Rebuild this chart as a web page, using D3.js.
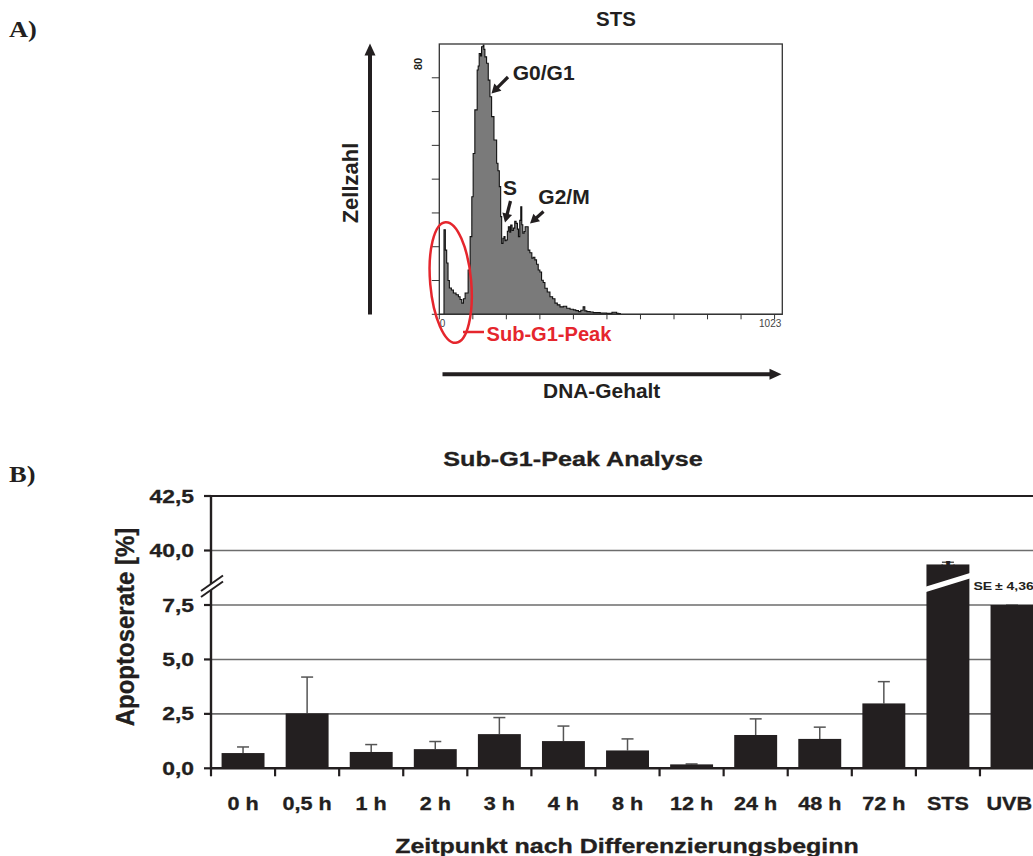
<!DOCTYPE html>
<html>
<head>
<meta charset="utf-8">
<script src="https://cdn.jsdelivr.net/npm/d3@7"></script>
<style>
  body { margin: 0; background: #fff; }
  svg { display: block; }
  text { font-family: "Liberation Sans", Arial, sans-serif; font-weight: bold; fill: #231f20; }
</style>
</head>
<body>
<div id="container"></div>
<script>
let w = 1033;
let h = 856;

// ---- panel A: DNA histogram (channel, cell count)
let channels = [0, 8, 14, 18, 22, 26, 30, 36, 42, 50, 57, 62, 67, 72, 77, 86, 92, 97, 101, 106, 113, 116, 119, 123, 126, 131, 133, 136, 141, 146, 151, 156, 163, 171, 175, 179, 183, 186, 190, 193, 196, 199, 203, 206, 210, 213, 217, 221, 225, 229, 233, 236, 240, 243, 246, 249, 253, 256, 262, 265, 270, 276, 280, 285, 290, 295, 300, 305, 310, 315, 322, 330, 338, 345, 352, 360, 370, 380, 390, 400, 407, 415, 422, 429, 434, 440, 450, 459, 480, 499, 515, 529, 535, 540, 1023];
let counts = [0, 0, 25, 19, 15.2, 10, 7.8, 7.2, 6.3, 5.8, 5.2, 4.4, 3.3, 4.6, 6.3, 13.1, 23, 34.8, 47.6, 60.5, 72.3, 73.5, 77.2, 76.5, 79.2, 79.7, 78.4, 76.2, 74.3, 69.3, 64.4, 58.5, 51.6, 44.7, 42.5, 37.8, 28.9, 21, 22.5, 23, 21.8, 22, 24.6, 25.9, 24.3, 26.4, 24.8, 25.5, 27.5, 26.9, 25.2, 23, 27.8, 31.8, 26.5, 24, 24.5, 25.9, 25.9, 19, 18.2, 16.6, 16.9, 16.1, 14.8, 13.1, 12.5, 10.1, 9.4, 7.7, 6.6, 5.2, 4.6, 3.3, 2.8, 2.2, 2.4, 1.8, 1.5, 1.3, 1.1, 0.8, 1.2, 2.2, 1.0, 0.8, 0.7, 0.5, 0.4, 0.3, 0.6, 0.3, 0.2, 0, 0];
let histYTicks = [0, 10, 20, 30, 40, 50, 60, 70];
let histXTicks = [0, 100, 200, 300, 400, 500, 600, 700, 800, 900, 1000];

// ---- panel B: Sub-G1 peak analysis
let categories = ["0 h", "0,5 h", "1 h", "2 h", "3 h", "4 h", "8 h", "12 h", "24 h", "48 h", "72 h", "STS", "UVB"];
let apoptosis = [0.70, 2.52, 0.75, 0.88, 1.57, 1.25, 0.82, 0.18, 1.53, 1.35, 2.98, 39.36, 7.57];
let errors = [0.28, 1.67, 0.34, 0.35, 0.76, 0.69, 0.53, 0.02, 0.74, 0.54, 1.00, 0.10, 0.13];
let yTicks = [0, 2.5, 5, 7.5, 40, 42.5];
let gridTicks = [2.5, 5, 7.5, 40];

let viz = d3.select('#container')
  .append('svg')
    .attr('width', w)
    .attr('height', h)
;

let fmt = d => d3.format(".1f")(d).replace(".", ",");

// text helper: the figure is stretched horizontally, so scale glyphs in x
function label(g, x, y, str, size, sx, anchor, rot) {
  let t = g.append("text")
    .attr("transform", "translate(" + x + "," + y + ") scale(" + sx + ",1)" + (rot ? " rotate(" + rot + ")" : ""))
    .attr("font-size", size + "px")
    .attr("text-anchor", anchor || "start")
    .text(str);
  return t;
}

function arrow(g, x1, y1, x2, y2, lw, hl, hw, color) {
  let dx = x2 - x1, dy = y2 - y1, len = Math.sqrt(dx * dx + dy * dy);
  let ux = dx / len, uy = dy / len, px = -uy, py = ux;
  let bx = x2 - ux * hl, by = y2 - uy * hl;
  g.append("line").attr("x1", x1).attr("y1", y1).attr("x2", bx + ux).attr("y2", by + uy)
    .attr("stroke", color).attr("stroke-width", lw);
  g.append("polygon")
    .attr("points", [[x2, y2], [bx + px * hw, by + py * hw], [bx - px * hw, by - py * hw]].map(p => p.join(",")).join(" "))
    .attr("fill", color);
}

// panel letters (serif)
label(viz, 9, 37, "A)", 23, 1.15).style("font-family", "'Liberation Serif', 'Times New Roman', serif");
label(viz, 9, 482, "B)", 23, 1.15).style("font-family", "'Liberation Serif', 'Times New Roman', serif");

// ================= panel A =================
let hist = viz.append("g").classed("hist", true);
let hx = d3.scaleLinear().domain([0, 1023]).range([439.3, 782.3]);
let hy = d3.scaleLinear().domain([0, 80]).range([314.3, 44]);
let histData = channels.map((c, i) => ({ ch: c, n: counts[i] }));

hist.append("path")
  .datum(histData)
  .attr("d", d3.area().x(d => hx(d.ch)).y0(hy(0)).y1(d => hy(d.n)).curve(d3.curveStepAfter))
  .attr("fill", "#7a7a7a")
  .attr("stroke", "#111")
  .attr("stroke-width", 1.1);

hist.append("rect")
  .attr("x", hx(0)).attr("y", hy(80))
  .attr("width", hx(1023) - hx(0)).attr("height", hy(0) - hy(80))
  .attr("fill", "none").attr("stroke", "#333").attr("stroke-width", 1.3);

hist.selectAll(".yt").data(histYTicks).enter().append("line")
  .attr("x1", hx(0) - 7.5).attr("x2", hx(0))
  .attr("y1", d => hy(d)).attr("y2", d => hy(d))
  .attr("stroke", "#333").attr("stroke-width", 1);
hist.selectAll(".xt").data(histXTicks).enter().append("line")
  .attr("x1", d => hx(d)).attr("x2", d => hx(d))
  .attr("y1", hy(0)).attr("y2", hy(0) + 5)
  .attr("stroke", "#333").attr("stroke-width", 1);

label(hist, hx(0) + 0.5, 326.5, "0", 10, 1).style("font-weight", "normal").style("fill", "#444");
label(hist, hx(1023) - 1, 326.5, "1023", 10, 1, "end").style("font-weight", "normal").style("fill", "#444");
label(hist, 421.5, 70, "80", 11, 1, "start", -90);

label(hist, 616, 25.7, "STS", 19.5, 1.05, "middle");
label(hist, 512.7, 80, "G0/G1", 21, 1);
label(hist, 503, 195, "S", 21, 1);
label(hist, 538.3, 204, "G2/M", 21, 1);
arrow(hist, 508, 77, 491.5, 93.5, 3.2, 9, 5, "#231f20");
arrow(hist, 510.5, 201, 505, 222.5, 3.2, 9, 5, "#231f20");
arrow(hist, 543.5, 211.5, 530, 223.5, 3.2, 9, 5, "#231f20");

// axis arrows
arrow(hist, 370, 314.5, 370, 43.5, 4, 12, 5.5, "#231f20");
label(hist, 358.3, 183, "Zellzahl", 22, 1, "middle", -90);
arrow(hist, 442.5, 374.3, 781.5, 374.3, 4, 12, 5.5, "#231f20");
label(hist, 601.7, 398.3, "DNA-Gehalt", 20.5, 1.02, "middle");

// sub-G1 highlight
hist.append("ellipse")
  .attr("transform", "translate(450.7,282.5) rotate(-5)")
  .attr("rx", 20.5).attr("ry", 60.5)
  .attr("fill", "none").attr("stroke", "#e5262d").attr("stroke-width", 2.5);
hist.append("line")
  .attr("x1", 463).attr("y1", 332).attr("x2", 484).attr("y2", 332)
  .attr("stroke", "#e5262d").attr("stroke-width", 2.5);
label(hist, 486.5, 340.7, "Sub-G1-Peak", 19.5, 1.03).style("fill", "#e5262d");

// ================= panel B =================
let chart = viz.append("g").classed("bars", true);
let left = 211, step = 64.08;
let x = d3.scaleBand().domain(categories)
  .range([left, left + step * categories.length])
  .paddingInner(0.33).paddingOuter(0.165);
// broken axis: 7.5 .. 37.5 collapsed onto one point
let y = d3.scaleLinear().domain([0, 7.5, 37.5, 42.5]).range([768.3, 605, 605, 496]);

chart.selectAll(".grid").data(gridTicks).enter().append("line")
  .attr("x1", left).attr("x2", w + 20)
  .attr("y1", d => y(d)).attr("y2", d => y(d))
  .attr("stroke", "#6d6d6d").attr("stroke-width", 1.6);
chart.append("line")
  .attr("x1", left - 1).attr("x2", w + 20)
  .attr("y1", y(42.5)).attr("y2", y(42.5))
  .attr("stroke", "#231f20").attr("stroke-width", 2.2);

let data = categories.map((c, i) => ({ c: c, v: apoptosis[i], e: errors[i] }));

// error bars
let eb = chart.append("g").classed("errors", true);
eb.selectAll("line.v").data(data).enter().append("line")
  .attr("x1", d => x(d.c) + x.bandwidth() / 2).attr("x2", d => x(d.c) + x.bandwidth() / 2)
  .attr("y1", d => y(d.v)).attr("y2", d => y(d.v + d.e))
  .attr("stroke", "#555").attr("stroke-width", 1.5);
eb.selectAll("line.cap").data(data).enter().append("line")
  .attr("x1", d => x(d.c) + x.bandwidth() / 2 - 6).attr("x2", d => x(d.c) + x.bandwidth() / 2 + 6)
  .attr("y1", d => y(d.v + d.e)).attr("y2", d => y(d.v + d.e))
  .attr("stroke", "#555").attr("stroke-width", 1.5);

chart.selectAll("rect.bar").data(data).enter().append("rect")
  .attr("class", "bar")
  .attr("x", d => x(d.c))
  .attr("y", d => y(d.v))
  .attr("width", x.bandwidth())
  .attr("height", d => y(0) - y(d.v))
  .attr("fill", "#231f20");

// break mark across the STS bar
let sx0 = x("STS"), sx1 = x("STS") + x.bandwidth();
chart.append("line")
  .attr("x1", sx0 - 6).attr("y1", 591).attr("x2", sx1 + 3).attr("y2", 575)
  .attr("stroke", "#fff").attr("stroke-width", 5);
label(chart, sx0 + x.bandwidth() / 2, y(apoptosis[11] + errors[11]) + 26, "*", 38, 1.05, "middle");
label(chart, sx1 + 4, 590, "SE\u2009\u00b1 4,36", 11.5, 1.22);

// axes
chart.append("line")
  .attr("x1", left - 1).attr("x2", w + 20)
  .attr("y1", y(0)).attr("y2", y(0))
  .attr("stroke", "#231f20").attr("stroke-width", 2.4);
chart.append("line")
  .attr("x1", left).attr("x2", left)
  .attr("y1", y(42.5)).attr("y2", y(0) + 1)
  .attr("stroke", "#231f20").attr("stroke-width", 2.4);

chart.selectAll(".ytick").data(yTicks).enter().append("line")
  .attr("x1", left - 7).attr("x2", left)
  .attr("y1", d => y(d)).attr("y2", d => y(d))
  .attr("stroke", "#231f20").attr("stroke-width", 2.2);
chart.selectAll(".xtick").data(d3.range(categories.length + 1)).enter().append("line")
  .attr("x1", i => left + i * x.step()).attr("x2", i => left + i * x.step())
  .attr("y1", y(0)).attr("y2", y(0) + 8)
  .attr("stroke", "#231f20").attr("stroke-width", 2.2);

// y axis break symbol
chart.append("polygon")
  .attr("points", "201,591 223,575.5 223,581.5 201,597")
  .attr("fill", "#fff");
chart.append("line").attr("x1", 201).attr("y1", 591).attr("x2", 223).attr("y2", 575.5)
  .attr("stroke", "#231f20").attr("stroke-width", 2);
chart.append("line").attr("x1", 201).attr("y1", 597).attr("x2", 223).attr("y2", 581.5)
  .attr("stroke", "#231f20").attr("stroke-width", 2);

yTicks.forEach(t => label(chart, 194, y(t) + 6.5, fmt(t), 18, 1.27, "end").style("stroke", "#231f20").style("stroke-width", 0.3));
categories.forEach(c => {
  let cx = x(c) + x.bandwidth() / 2;
  let t = label(chart, cx, 810, c, 18, 1.2, "middle").style("stroke", "#231f20").style("stroke-width", 0.3);
  let half = t.node().getComputedTextLength() * 1.2 / 2;
  if (cx + half > w - 1) t.attr("transform", "translate(" + (w - 1 - half) + ",810) scale(1.2,1)");
});

label(chart, 573, 466, "Sub-G1-Peak Analyse", 21, 1.2, "middle").style("stroke", "#231f20").style("stroke-width", 0.3);
label(chart, 627, 853, "Zeitpunkt nach Differenzierungsbeginn", 20, 1.25, "middle").style("stroke", "#231f20").style("stroke-width", 0.3);
label(chart, 134, 627, "Apoptoserate [%]", 24, 1.1, "middle", -90).style("stroke", "#231f20").style("stroke-width", 0.3);
</script>
</body>
</html>
